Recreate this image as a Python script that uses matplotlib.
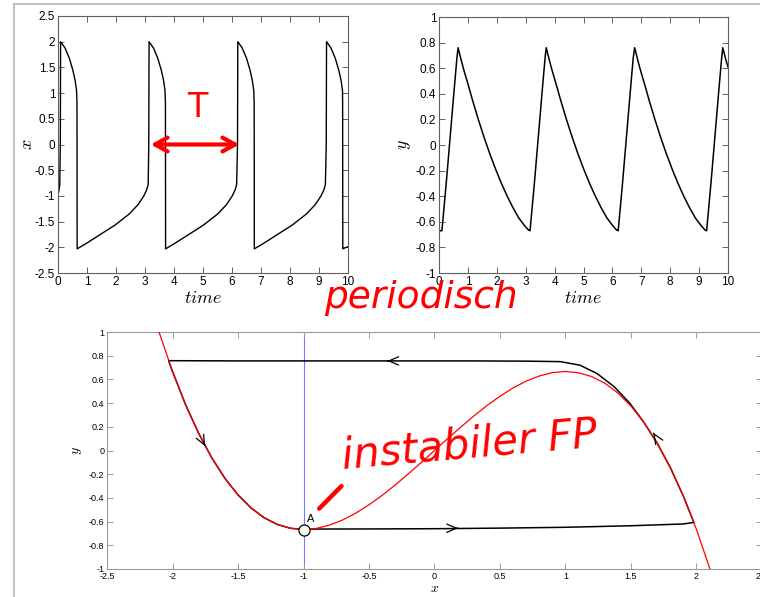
import matplotlib
matplotlib.use("Agg")
import matplotlib.pyplot as plt
from matplotlib.lines import Line2D
from matplotlib.ticker import FixedLocator, FuncFormatter

# x(t)
t_x = [0.0, 0.03, 0.06, 0.08, 0.09, 0.24, 0.39, 0.51, 0.59, 0.64, 0.655, 0.66,
       0.96, 1.46, 1.96, 2.46, 2.76, 2.96, 3.06, 3.11, 3.13, 3.14,
       3.29, 3.44, 3.56, 3.64, 3.69, 3.705, 3.71,
       4.01, 4.51, 5.01, 5.51, 5.81, 6.01, 6.11, 6.16, 6.19, 6.2,
       6.35, 6.5, 6.62, 6.7, 6.75, 6.765, 6.77,
       7.07, 7.57, 8.07, 8.57, 8.87, 9.07, 9.17, 9.22, 9.25, 9.26,
       9.41, 9.56, 9.68, 9.76, 9.81, 9.815, 9.82, 9.9, 10.0]
x_vals = [-0.98, -0.9, -0.78, 0.0, 2.0, 1.88, 1.68, 1.45, 1.25, 1.05, 0.8, -2.03,
          -1.93, -1.75, -1.57, -1.35, -1.17, -1.0, -0.88, -0.78, 0.0, 2.0,
          1.88, 1.68, 1.45, 1.25, 1.05, 0.8, -2.03,
          -1.93, -1.75, -1.57, -1.35, -1.17, -1.0, -0.88, -0.78, 0.0, 2.0,
          1.88, 1.68, 1.45, 1.25, 1.05, 0.8, -2.03,
          -1.93, -1.75, -1.57, -1.35, -1.17, -1.0, -0.88, -0.78, 0.0, 2.0,
          1.88, 1.68, 1.45, 1.25, 1.05, 0.8, -2.03, -2.01, -1.99]

# y(t)
t_y = [0.0, 0.1, 0.25, 0.4, 0.52, 0.62, 0.66,
       0.76, 0.86, 1.01, 1.16, 1.36, 1.56, 1.76, 1.96, 2.16, 2.36, 2.56, 2.76, 2.96, 3.1, 3.15,
       3.3, 3.45, 3.57, 3.67, 3.71,
       3.81, 3.91, 4.06, 4.21, 4.41, 4.61, 4.81, 5.01, 5.21, 5.41, 5.61, 5.81, 6.01, 6.15, 6.2,
       6.35, 6.5, 6.62, 6.72, 6.77,
       6.87, 6.97, 7.12, 7.27, 7.47, 7.67, 7.87, 8.07, 8.27, 8.47, 8.67, 8.87, 9.07, 9.21, 9.26,
       9.41, 9.56, 9.68, 9.78, 9.82, 9.92, 10.0]
y_vals = [-0.67, -0.67, -0.3, 0.1, 0.42, 0.68, 0.76,
          0.67, 0.585, 0.47, 0.35, 0.20, 0.06, -0.07, -0.19, -0.30, -0.40, -0.49, -0.57, -0.63, -0.665, -0.67,
          -0.3, 0.1, 0.42, 0.68, 0.76,
          0.67, 0.585, 0.47, 0.35, 0.20, 0.06, -0.07, -0.19, -0.30, -0.40, -0.49, -0.57, -0.63, -0.665, -0.67,
          -0.3, 0.1, 0.42, 0.68, 0.76,
          0.67, 0.585, 0.47, 0.35, 0.20, 0.06, -0.07, -0.19, -0.30, -0.40, -0.49, -0.57, -0.63, -0.665, -0.67,
          -0.3, 0.1, 0.42, 0.68, 0.76, 0.67, 0.61]

# red nullcline in the phase plane
null_x = [-2.12, -2.0, -1.9, -1.8, -1.7, -1.6, -1.5, -1.4, -1.3, -1.2, -1.1, -1.0,
          -0.9, -0.8, -0.7, -0.6, -0.5, -0.4, -0.3, -0.2, -0.1, 0.0,
          0.1, 0.2, 0.3, 0.4, 0.5, 0.6, 0.7, 0.8, 0.9, 1.0,
          1.1, 1.2, 1.3, 1.4, 1.5, 1.6, 1.7, 1.8, 1.9, 2.0, 2.12]
null_y = [1.056, 0.667, 0.386, 0.144, -0.062, -0.235, -0.375, -0.485, -0.568, -0.624, -0.656, -0.667,
          -0.657, -0.629, -0.586, -0.528, -0.458, -0.379, -0.291, -0.197, -0.1, 0.0,
          0.1, 0.197, 0.291, 0.379, 0.458, 0.528, 0.586, 0.629, 0.657, 0.667,
          0.656, 0.624, 0.568, 0.485, 0.375, 0.235, 0.062, -0.144, -0.386, -0.667, -1.056]

# limit cycle (black)
cyc_x = [-1.0, -0.5, 0.0, 0.5, 1.0, 1.5, 1.9, 1.98,
         1.9, 1.8, 1.7, 1.6, 1.49, 1.37, 1.24, 1.11, 0.96, 0.7, 0.3, -0.5, -1.5, -2.03,
         -2.0, -1.9, -1.8, -1.7, -1.6, -1.5, -1.4, -1.3, -1.2, -1.1, -1.0]
cyc_y = [-0.663, -0.662, -0.66, -0.655, -0.648, -0.635, -0.62, -0.607,
         -0.386, -0.144, 0.062, 0.235, 0.40, 0.54, 0.65, 0.72, 0.75, 0.754, 0.756, 0.756, 0.756, 0.758,
         0.667, 0.386, 0.144, -0.062, -0.235, -0.375, -0.485, -0.568, -0.624, -0.656, -0.667]

# direction chevrons on the cycle
arr_x = [-0.36, 0.18, -1.75, 1.67]
arr_y = [0.756, -0.656, 0.036, 0.15]
arr_dx = [-1.0, 1.0, 1.0, -1.0]
arr_dy = [0.0, 0.0, -2.06, 1.79]

# fixed point A
fp_x, fp_y = -1.0, -0.667

plt.rcParams['axes.unicode_minus'] = False
plt.rcParams['mathtext.fontset'] = 'cm'

W, H = 760, 597
fig = plt.figure(figsize=(W / 100, H / 100), dpi=100)


def fmt(v, pos):
    return f"{round(v, 2) + 0.0:g}"


def style(ax, size, spine_col):
    for s in ax.spines.values():
        s.set_color(spine_col)
        s.set_linewidth(0.8)
    ax.tick_params(direction='in', top=True, right=True, length=4, width=0.7,
                   color=spine_col, labelsize=size, pad=2)
    for lab in ax.get_xticklabels() + ax.get_yticklabels():
        lab.set_fontfamily('Liberation Sans')
    ax.xaxis.set_major_formatter(FuncFormatter(fmt))
    ax.yaxis.set_major_formatter(FuncFormatter(fmt))


def box(l, t, r, b):
    return [l / W, 1 - b / H, (r - l) / W, (b - t) / H]


# upper left: x(t)
ax1 = fig.add_axes(box(58, 16, 348, 273))
ax1.plot(t_x, x_vals, color='black', lw=1.0)
ax1.set_xlim(0, 10)
ax1.set_ylim(-2.5, 2.5)
ax1.xaxis.set_major_locator(FixedLocator([0, 1, 2, 3, 4, 5, 6, 7, 8, 9, 10]))
ax1.yaxis.set_major_locator(FixedLocator([-2.5, -2, -1.5, -1, -0.5, 0, 0.5, 1, 1.5, 2, 2.5]))
ax1.set_xlabel('$time$', fontsize=13, labelpad=1)
ax1.set_ylabel('$x$', fontsize=13)
ax1.yaxis.set_label_coords(-0.075, 0.5)
style(ax1, 8.5, '#606060')

# upper right: y(t)
ax2 = fig.add_axes(box(439, 17, 728, 273))
ax2.plot(t_y, y_vals, color='black', lw=1.1)
ax2.set_xlim(0, 10)
ax2.set_ylim(-1, 1)
ax2.xaxis.set_major_locator(FixedLocator([0, 1, 2, 3, 4, 5, 6, 7, 8, 9, 10]))
ax2.yaxis.set_major_locator(FixedLocator([-1, -0.8, -0.6, -0.4, -0.2, 0, 0.2, 0.4, 0.6, 0.8, 1]))
ax2.set_xlabel('$time$', fontsize=13, labelpad=1)
ax2.set_ylabel('$y$', fontsize=13)
ax2.yaxis.set_label_coords(-0.09, 0.5)
style(ax2, 8.5, '#606060')

# phase plane
ax3 = fig.add_axes(box(107, 332, 762, 569))
ax3.axvline(-1.0, color='#7777ff', lw=0.8, zorder=1)
ax3.plot(cyc_x, cyc_y, color='black', lw=1.1, zorder=2)
ax3.plot(null_x, null_y, color='#ff0000', lw=0.9, zorder=3)
for i in range(len(arr_x)):
    ax3.annotate('', xy=(arr_x[i], arr_y[i]),
                 xytext=(arr_x[i] - 0.002 * arr_dx[i], arr_y[i] - 0.002 * arr_dy[i]),
                 arrowprops=dict(arrowstyle='->,head_length=0.7,head_width=0.3',
                                 color='black', lw=0.9, shrinkA=0, shrinkB=0),
                 zorder=4)
ax3.plot([fp_x], [fp_y], 'o', ms=8, mfc='white', mec='black', mew=0.9, zorder=5)
ax3.text(fp_x + 0.03, fp_y + 0.05, 'A', fontsize=8, fontfamily='Liberation Sans',
         ha='left', va='bottom')
ax3.set_xlim(-2.5, 2.5)
ax3.set_ylim(-1, 1)
ax3.xaxis.set_major_locator(FixedLocator([-2.5, -2, -1.5, -1, -0.5, 0, 0.5, 1, 1.5, 2, 2.5]))
ax3.yaxis.set_major_locator(FixedLocator([-1, -0.8, -0.6, -0.4, -0.2, 0, 0.2, 0.4, 0.6, 0.8, 1]))
ax3.set_xlabel('$x$', fontsize=10, labelpad=0)
ax3.set_ylabel('$y$', fontsize=10)
ax3.yaxis.set_label_coords(-0.035, 0.5)
style(ax3, 6.5, '#9a9a9a')

# handwritten red notes
red = '#ff0000'
ax1.annotate('', xy=(3.2, 0.0), xytext=(6.25, 0.0),
             arrowprops=dict(arrowstyle='<->,head_length=0.9,head_width=0.5',
                             color=red, lw=3, shrinkA=0, shrinkB=0))
ax1.text(4.8, 0.72, 'T', color=red, fontsize=24, fontfamily='DejaVu Sans',
         ha='center', va='center')
fig.text(421 / W, 1 - 298 / H, 'periodisch', color=red, fontsize=27,
         fontfamily='DejaVu Sans', fontstyle='italic', ha='center', va='center')
ax3.text(-0.7, -0.15, 'instabiler FP', color=red, fontsize=30, fontfamily='DejaVu Sans',
         fontstyle='italic', rotation=5, ha='left', va='baseline', rotation_mode='anchor')
ax3.plot([-0.71, -0.88], [-0.30, -0.49], color=red, lw=3.2, solid_capstyle='round')

# screenshot frame
fig.add_artist(Line2D([14 / W, 1], [1 - 4 / H, 1 - 4 / H], transform=fig.transFigure,
                      color='#b8b8b8', lw=1.2))
fig.add_artist(Line2D([14 / W, 14 / W], [0, 1 - 4 / H], transform=fig.transFigure,
                      color='#b8b8b8', lw=1.2))

fig.savefig('out.png', dpi=100)
plt.close(fig)
